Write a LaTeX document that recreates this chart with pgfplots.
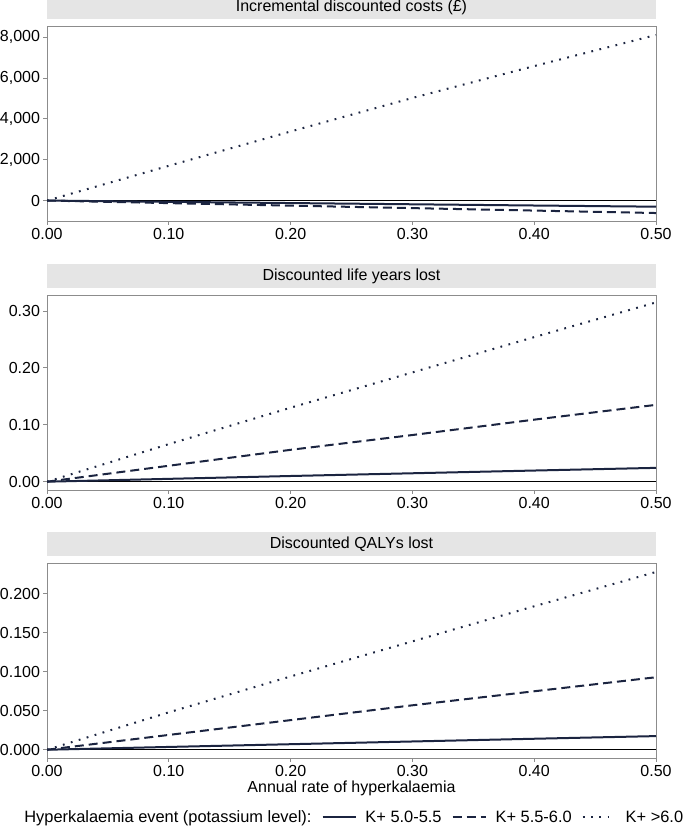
\documentclass[border=0pt]{standalone}
\usepackage{fontspec}
\setmainfont{Liberation Sans}
\usepackage{pgfplots}
\pgfplotsset{compat=1.18}
\definecolor{navy}{HTML}{1B2440}
\definecolor{stripgrey}{HTML}{E5E5E5}
\definecolor{framegrey}{HTML}{8C8C8C}
\newcommand{\fs}{\fontsize{16bp}{19bp}\selectfont}
\newcommand{\fl}{\fontsize{16.4bp}{19bp}\selectfont}

\pgfplotsset{
  panel/.style={
    scale only axis, width=609bp, height=195bp,
    xmin=0, xmax=0.5,
    xtick={0,0.1,0.2,0.3,0.4,0.5},
    /pgf/number format/assume math mode=true,
    xticklabel={\pgfmathprintnumber[fixed,fixed zerofill,precision=2]{\tick}},
    axis line style={framegrey, line width=0.9bp},
    tick style={framegrey, line width=0.8bp},
    tick align=outside, major tick length=3.5bp,
    xtick pos=bottom, ytick pos=left,
    ticklabel style={font=\fs},
    title style={fill=stripgrey, minimum width=609bp, minimum height=24bp,
      inner sep=0pt, anchor=south, at={(0.5,1)}, yshift=0.5bp, font=\fs},
    every axis plot/.append style={line width=2bp, navy},
    legend image code/.code={\draw[#1] (0bp,0bp) -- (33bp,0bp);},
  },
  solidl/.style={solid},
  dashedl/.style={dash pattern=on 9bp off 5bp},
  dottedl/.style={dash pattern=on 1.8bp off 6.5bp},
}

\begin{document}
\begin{tikzpicture}
\useasboundingbox (0,0) rectangle (685bp,-833bp);

% Panel 1
\begin{axis}[panel, at={(47bp,-26bp)}, anchor=north west,
  title={Incremental discounted costs (£)},
  ymin=-1000, ymax=8540,
  ytick={0,2000,4000,6000,8000},
  yticklabel={\pgfmathprintnumber[1000 sep={,}]{\tick}},
]
\addplot[black, line width=1bp, forget plot] coordinates {(0,0) (0.5,0)};
\addplot[solidl] coordinates {(0,0) (0.1,-62) (0.2,-122) (0.3,-182) (0.4,-242) (0.5,-300)};
\addplot[dashedl] coordinates {(0,0) (0.1,-125) (0.2,-248) (0.3,-370) (0.4,-490) (0.5,-610)};
\addplot[dottedl] coordinates {(0,0) (0.1,1700) (0.2,3380) (0.3,5020) (0.4,6580) (0.5,8100)};
\end{axis}

% Panel 2
\begin{axis}[panel, at={(47bp,-295bp)}, anchor=north west,
  title={Discounted life years lost},
  ymin=-0.0146, ymax=0.328,
  ytick={0,0.1,0.2,0.3},
  yticklabel={\pgfmathprintnumber[fixed,fixed zerofill,precision=2]{\tick}},
]
\addplot[black, line width=1bp, forget plot] coordinates {(0,0) (0.5,0)};
\addplot[solidl] coordinates {(0,0) (0.1,0.0050) (0.2,0.0100) (0.3,0.0148) (0.4,0.0196) (0.5,0.0243)};
\addplot[dashedl] coordinates {(0,0) (0.1,0.028) (0.2,0.056) (0.3,0.082) (0.4,0.109) (0.5,0.135)};
\addplot[dottedl] coordinates {(0,0) (0.1,0.066) (0.2,0.130) (0.3,0.192) (0.4,0.254) (0.5,0.315)};
\end{axis}

% Panel 3
\begin{axis}[panel, at={(47bp,-563bp)}, anchor=north west,
  title={Discounted QALYs lost},
  ymin=-0.0106, ymax=0.2395,
  ytick={0,0.05,0.1,0.15,0.2},
  yticklabel={\pgfmathprintnumber[fixed,fixed zerofill,precision=3]{\tick}},
  xlabel={Annual rate of hyperkalaemia},
  xlabel style={font=\fs, yshift=2bp},
  legend columns=-1,
  legend style={at={(0.498,-0.303)}, anchor=center, draw=none, fill=none,
    font=\fl,
    /tikz/every odd column/.append style={column sep=7bp},
    /tikz/every even column/.append style={column sep=8bp}},
]
\addlegendimage{empty legend}
\addlegendentry{Hyperkalaemia event (potassium level):}
\addplot[black, line width=1bp, forget plot] coordinates {(0,0) (0.5,0)};
\addplot[solidl] coordinates {(0,0) (0.1,0.0036) (0.2,0.0071) (0.3,0.0106) (0.4,0.0141) (0.5,0.0175)};
\addlegendentry{K+ 5.0-5.5}
\addplot[dashedl] coordinates {(0,0) (0.1,0.019) (0.2,0.038) (0.3,0.057) (0.4,0.075) (0.5,0.093)};
\addlegendentry{K+ 5.5-6.0}
\addplot[dottedl] coordinates {(0,0) (0.1,0.048) (0.2,0.094) (0.3,0.139) (0.4,0.184) (0.5,0.228)};
\addlegendentry{K+ >6.0}
\end{axis}
\end{tikzpicture}
\end{document}
